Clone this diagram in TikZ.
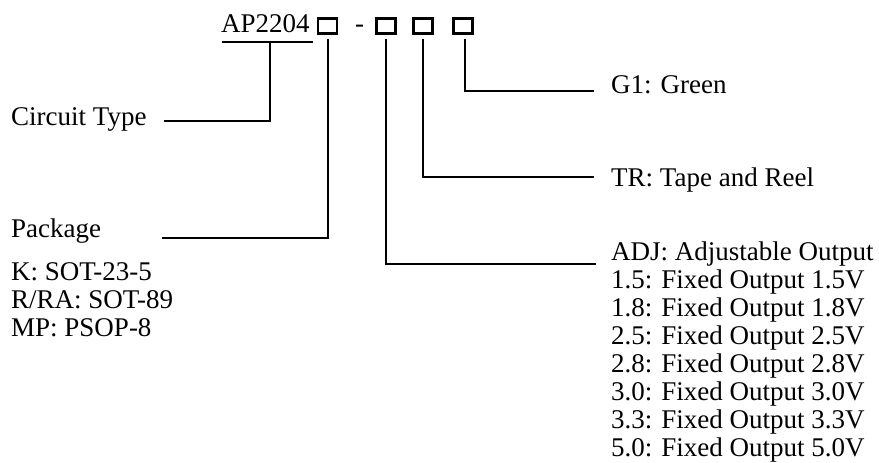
\documentclass[tikz,border=0pt]{standalone}
\usepackage{fontspec}
\setmainfont{Liberation Serif}
\begin{document}
\begin{tikzpicture}[x=1pt,y=-1pt,
  lbl/.style={anchor=base west,inner sep=0pt,font=\fontsize{27}{28}\selectfont},
  wire/.style={line width=2pt,line cap=rect},
  digit/.style={draw,line width=2.8pt,minimum width=19pt,minimum height=15pt,inner sep=0pt}]
\useasboundingbox (0,0) rectangle (879,463);
% part number
\node[lbl] (ap) at (221,32) {AP2204};
\node[digit] (b1) at (327.5,26) {};
\node[lbl] (dash) at (355,32) {-};
\node[digit] (b2) at (386,26) {};
\node[digit] (b3) at (423,26) {};
\node[digit] (b4) at (463,26) {};
% labels
\node[lbl] (ct) at (11,125) {Circuit Type};
\node[lbl] (pk) at (11,237) {Package};
\node[lbl] (k) at (11,280) {K: SOT-23-5};
\node[lbl] (r) at (11,308) {R/RA: SOT-89};
\node[lbl] (mp) at (11,336) {MP: PSOP-8};
\node[lbl] (g1) at (611,93) {G1: Green};
\node[lbl] (tr) at (611,186) {TR: Tape and Reel};
\node[lbl] (adj) at (611,260) {ADJ: Adjustable Output};
\node[lbl] (v15) at (611,288) {1.5: Fixed Output 1.5V};
\node[lbl] (v18) at (611,316) {1.8: Fixed Output 1.8V};
\node[lbl] (v25) at (611,344) {2.5: Fixed Output 2.5V};
\node[lbl] (v28) at (611,372) {2.8: Fixed Output 2.8V};
\node[lbl] (v30) at (611,400) {3.0: Fixed Output 3.0V};
\node[lbl] (v33) at (611,428) {3.3: Fixed Output 3.3V};
\node[lbl] (v50) at (611,456) {5.0: Fixed Output 5.0V};
% connectors
\coordinate (ul1) at (223,42);
\coordinate (ul2) at (312,42);
\draw[wire] (ul1) -- (ul2);
\coordinate (ctA) at (165,121);
\coordinate (ctB) at (270,121);
\draw[wire] (ctA) -- (ctB) -- (270,42);
\coordinate (pkA) at (163,238);
\draw[wire] (pkA) -- (328,238) -- (328,40);
\coordinate (adjE) at (595,264);
\draw[wire] (386,40) -- (386,264) -- (adjE);
\coordinate (trE) at (593,177);
\draw[wire] (423,40) -- (423,177) -- (trE);
\coordinate (g1E) at (593,91);
\draw[wire] (465,40) -- (465,91) -- (g1E);
\end{tikzpicture}
\end{document}
